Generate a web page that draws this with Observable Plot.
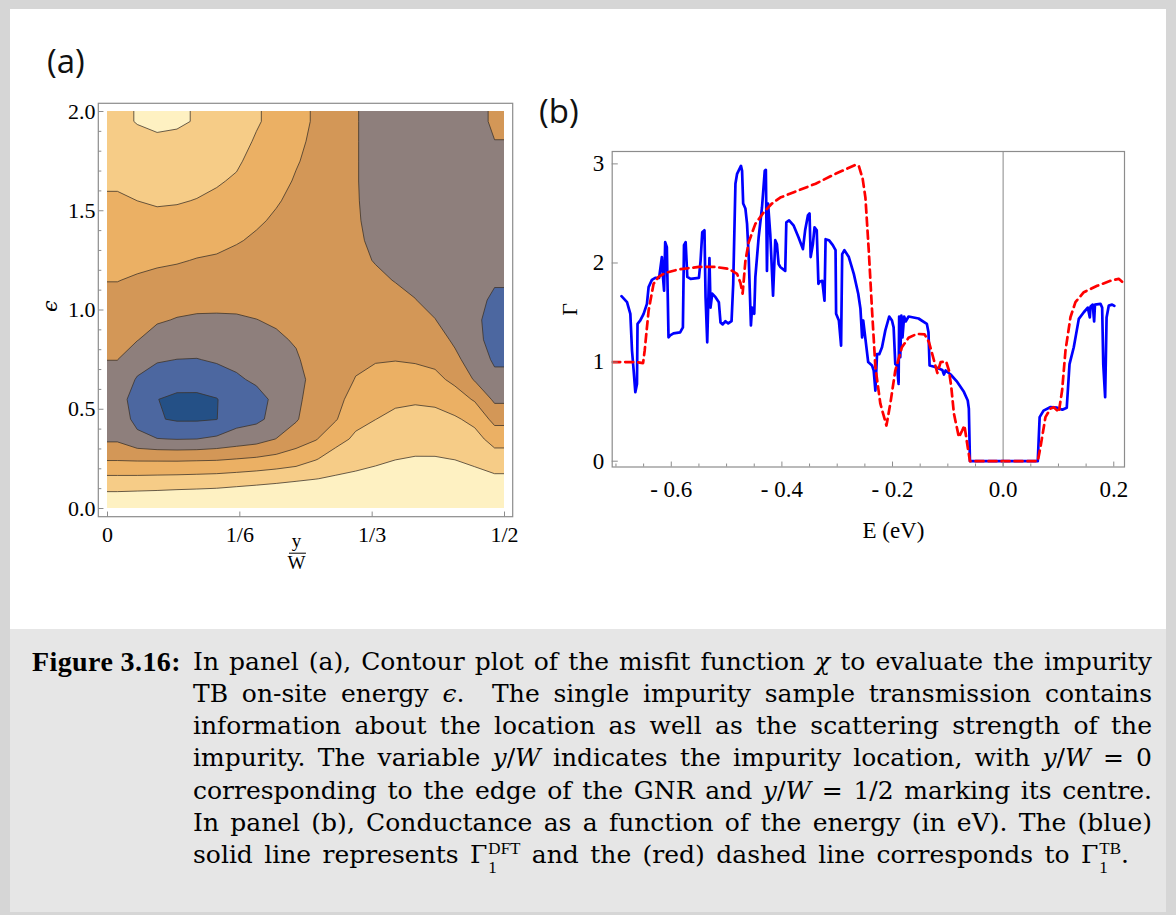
<!DOCTYPE html>
<html><head><meta charset="utf-8">
<script src="https://cdn.jsdelivr.net/npm/d3@7"></script>
<script src="https://cdn.jsdelivr.net/npm/@observablehq/plot@0.6"></script>
<style>
html,body{margin:0;padding:0;background:#fff}
#page{position:relative;width:1176px;height:915px;background:#d6d6d6;overflow:hidden}
.plotbox{position:absolute;top:0}
.plabel{position:absolute;font-family:"Open Sans";font-size:33px;line-height:33px;color:#111}
#cap{font-family:"DejaVu Serif",serif;font-size:25px;color:#000}
.ln{position:absolute;left:193px;white-space:nowrap;line-height:32px;height:32px}
.fig{position:absolute;left:32px;font-family:"Liberation Serif",serif;font-size:28px;letter-spacing:0.4px;font-weight:bold;white-space:nowrap;line-height:32px}
.ss{display:inline-flex;flex-direction:column;font-family:"Liberation Serif",serif;font-size:17px;line-height:19.4px;vertical-align:9.3px;margin-left:1px}
</style></head>
<body>
<div id="page">
  <div style="position:absolute;left:10px;top:9px;width:1156px;height:620px;background:#fff"></div>
  <div style="position:absolute;left:10px;top:629px;width:1156px;height:283px;background:#e6e6e6"></div>
  <div id="pa" class="plotbox" style="left:0;width:540px"></div>
  <div id="pb" class="plotbox" style="left:530px;width:646px"></div>
  <div class="plabel" style="left:47px;top:44px">(a)</div>
  <div class="plabel" style="left:539px;top:94px">(b)</div>
  <div id="cap">
    <div class="fig" style="top:646px">Figure 3.16:</div>
    <div class="ln" data-w="959" style="top:646px">In panel (a), Contour plot of the misfit function <i>χ</i> to evaluate the impurity</div>
    <div class="ln" data-w="959" style="top:678px">TB on-site energy <i>ϵ</i>.&nbsp; The single impurity sample transmission contains</div>
    <div class="ln" data-w="959" style="top:710px">information about the location as well as the scattering strength of the</div>
    <div class="ln" data-w="959" style="top:742px">impurity. The variable <i>y</i>/<i>W</i> indicates the impurity location, with <i>y</i>/<i>W</i> = 0</div>
    <div class="ln" data-w="959" style="top:775px">corresponding to the edge of the GNR and <i>y</i>/<i>W</i> = 1/2 marking its centre.</div>
    <div class="ln" data-w="959" style="top:807px">In panel (b), Conductance as a function of the energy (in eV). The (blue)</div>
    <div class="ln" data-w="936" style="top:839px">solid line represents Γ<span class="ss"><span>DFT</span><span>1</span></span> and the (red) dashed line corresponds to Γ<span class="ss"><span>TB</span><span>1</span></span>.</div>
  </div>
</div>
<script>
// ---------- Panel (a): misfit function chi, sampled on a 20 x 20 cell grid ----------
// columns: y/W cell centres 0.0125 ... 0.4875 ; each column lists eps cell centres 0.05 ... 1.95
const yW = [0.0125,0.0375,0.0625,0.0875,0.1125,0.1375,0.1625,0.1875,0.2125,0.2375,0.2625,0.2875,0.3125,0.3375,0.3625,0.3875,0.4125,0.4375,0.4625,0.4875];
const eps = [0.05,0.15,0.25,0.35,0.45,0.55,0.65,0.75,0.85,0.95,1.05,1.15,1.25,1.35,1.45,1.55,1.65,1.75,1.85,1.95];
const chiColumns = [
  [6.42,5.22,3.89,2.85,2.53,2.39,2.70,3.01,3.27,3.52,3.77,4.02,4.24,4.46,4.67,4.89,5.12,5.35,5.58,5.81],
  [6.47,5.23,3.85,2.25,1.73,1.59,1.91,2.44,3.03,3.32,3.62,3.91,4.19,4.46,4.73,5.00,5.26,5.52,5.78,6.04],
  [6.51,5.26,3.84,2.03,1.08,1.02,1.60,2.08,2.62,3.10,3.45,3.79,4.13,4.46,4.79,5.09,5.36,5.62,5.88,6.15],
  [6.58,5.29,3.83,1.97,0.89,0.78,1.44,1.99,2.47,2.95,3.33,3.70,4.07,4.41,4.75,5.06,5.32,5.58,5.84,6.10],
  [6.62,5.33,3.86,2.00,0.89,0.78,1.43,1.97,2.43,2.88,3.26,3.61,3.96,4.30,4.63,4.97,5.22,5.46,5.71,5.95],
  [6.67,5.38,3.89,2.18,0.98,0.96,1.59,2.10,2.49,2.88,3.23,3.57,3.90,4.21,4.52,4.82,5.09,5.31,5.53,5.76],
  [6.79,5.47,4.00,2.42,1.65,1.53,1.88,2.22,2.57,2.91,3.21,3.49,3.77,4.06,4.33,4.61,4.89,5.13,5.36,5.58],
  [6.90,5.57,4.12,2.62,1.80,1.70,2.14,2.42,2.70,2.99,3.21,3.44,3.66,3.89,4.10,4.30,4.50,4.70,4.90,5.10],
  [7.03,5.68,4.29,3.02,2.30,2.20,2.45,2.70,2.90,3.08,3.25,3.41,3.57,3.74,3.90,4.06,4.22,4.38,4.54,4.70],
  [7.19,5.82,4.50,3.55,2.90,2.82,2.75,2.92,3.06,3.17,3.28,3.39,3.50,3.61,3.72,3.83,3.94,4.05,4.15,4.25],
  [7.00,5.98,4.94,3.94,3.67,3.39,3.27,3.30,3.35,3.40,3.45,3.50,3.55,3.60,3.65,3.70,3.75,3.80,3.85,3.90],
  [6.80,6.12,5.44,4.67,3.93,3.70,3.50,3.35,3.30,3.27,3.25,3.25,3.25,3.25,3.25,3.30,3.35,3.40,3.45,3.50],
  [6.72,6.20,5.68,5.16,4.75,4.39,4.04,3.80,3.60,3.45,3.35,3.25,3.18,3.12,3.08,3.06,3.05,3.05,3.05,3.05],
  [6.70,6.27,5.85,5.42,4.99,4.62,4.26,3.94,3.74,3.54,3.35,3.15,2.96,2.85,2.78,2.74,2.72,2.72,2.72,2.72],
  [6.74,6.36,5.98,5.60,5.22,4.82,4.38,3.97,3.72,3.47,3.22,2.97,2.80,2.70,2.62,2.57,2.54,2.52,2.52,2.52],
  [6.80,6.42,6.05,5.67,5.29,4.89,4.36,3.91,3.61,3.32,3.02,2.80,2.65,2.55,2.48,2.44,2.42,2.40,2.40,2.40],
  [6.80,6.42,6.05,5.66,5.27,4.82,4.24,3.77,3.40,3.02,2.75,2.55,2.45,2.40,2.38,2.36,2.36,2.36,2.38,2.40],
  [6.84,6.41,5.98,5.55,5.12,4.45,3.78,3.21,2.85,2.60,2.45,2.38,2.35,2.35,2.37,2.40,2.45,2.50,2.55,2.62],
  [6.76,6.29,5.81,5.33,4.75,3.90,2.92,2.55,2.30,2.20,2.20,2.25,2.35,2.45,2.52,2.58,2.63,2.67,2.71,2.75],
  [6.93,6.19,5.44,4.64,3.70,2.82,2.24,1.86,1.62,1.63,1.88,2.07,2.20,2.33,2.46,2.59,2.72,2.86,2.99,3.12]
];
const chiLevels = [0,1,2,3,4,5,6];
const chiColors = ["#245086","#4c67a0","#8e7f7c","#d39757","#ebb064","#f6cc87","#fef1c2"];
const xTicksA = [0, 1/6, 1/3, 1/2];
const xTickLabelsA = ["0", "1/6", "1/3", "1/2"];
const yTicksA = [0, 0.5, 1, 1.5, 2];
const yMinorA = [0.1,0.2,0.3,0.4,0.6,0.7,0.8,0.9,1.1,1.2,1.3,1.4,1.6,1.7,1.8,1.9];

// ---------- Panel (b): conductance vs energy ----------
const gammaDFT = [
 [-0.690,1.665],[-0.680,1.605],[-0.674,1.487],[-0.671,1.117],[-0.668,0.915],[-0.665,0.696],[-0.662,0.78],[-0.661,1.386],
 [-0.656,1.42],[-0.650,1.487],[-0.644,1.588],[-0.641,1.756],[-0.635,1.83],[-0.629,1.85],[-0.622,1.85],[-0.617,2.06],
 [-0.615,1.86],[-0.613,1.72],[-0.611,2.21],[-0.608,2.16],[-0.605,1.25],[-0.602,1.27],[-0.596,1.29],[-0.584,1.30],
 [-0.579,1.35],[-0.577,2.18],[-0.574,2.21],[-0.571,1.86],[-0.565,1.84],[-0.550,1.85],[-0.547,2.025],[-0.544,2.31],
 [-0.540,2.33],[-0.538,1.655],[-0.535,1.20],[-0.531,2.05],[-0.529,1.55],[-0.526,1.69],[-0.520,1.655],[-0.514,1.605],
 [-0.511,1.40],[-0.507,1.38],[-0.502,1.413],[-0.497,1.39],[-0.491,1.413],[-0.488,1.79],[-0.484,2.80],[-0.481,2.90],
 [-0.474,2.98],[-0.472,2.93],[-0.470,2.60],[-0.466,2.55],[-0.463,2.395],[-0.460,2.06],[-0.456,1.37],[-0.454,1.55],
 [-0.450,1.487],[-0.448,1.857],[-0.442,2.26],[-0.436,2.56],[-0.431,2.93],[-0.429,2.94],[-0.427,1.92],[-0.425,2.60],
 [-0.421,2.29],[-0.416,1.67],[-0.412,2.23],[-0.409,2.19],[-0.406,1.99],[-0.403,1.96],[-0.394,1.92],[-0.392,2.41],
 [-0.387,2.43],[-0.379,2.38],[-0.370,2.26],[-0.362,2.14],[-0.358,2.33],[-0.353,2.48],[-0.350,2.50],[-0.348,2.06],
 [-0.344,2.19],[-0.341,2.36],[-0.337,2.33],[-0.334,1.79],[-0.332,1.81],[-0.327,1.82],[-0.323,1.62],[-0.321,2.24],
 [-0.315,2.23],[-0.308,2.18],[-0.303,2.13],[-0.302,1.487],[-0.297,1.42],[-0.293,1.167],[-0.291,2.09],[-0.287,2.13],
 [-0.279,2.06],[-0.270,1.89],[-0.262,1.69],[-0.258,1.54],[-0.255,1.25],[-0.253,1.42],[-0.249,1.235],[-0.244,1.00],
 [-0.237,0.965],[-0.234,0.915],[-0.231,0.713],[-0.228,1.08],[-0.224,1.08],[-0.219,1.15],[-0.213,1.32],[-0.206,1.46],
 [-0.201,1.42],[-0.198,1.35],[-0.195,0.98],[-0.192,0.965],[-0.189,0.78],[-0.188,1.46],[-0.186,1.05],[-0.184,1.47],
 [-0.182,1.25],[-0.179,1.46],[-0.176,1.41],[-0.171,1.46],[-0.153,1.44],[-0.138,1.386],[-0.135,1.30],[-0.133,0.965],
 [-0.123,0.95],[-0.110,0.92],[-0.107,0.875],[-0.104,0.915],[-0.095,0.875],[-0.083,0.80],[-0.071,0.70],[-0.064,0.612],
 [-0.062,0.53],[-0.060,0],[0.0626,0],[0.066,0.445],[0.073,0.51],[0.085,0.545],[0.0976,0.54],[0.107,0.52],
 [0.115,0.54],[0.120,0.98],[0.1277,1.15],[0.1368,1.436],[0.1458,1.503],[0.153,1.55],[0.1567,1.45],[0.158,1.56],
 [0.162,1.58],[0.1645,1.41],[0.166,1.58],[0.176,1.588],[0.179,1.55],[0.181,0.98],[0.1844,0.646],[0.187,1.45],
 [0.191,1.57],[0.197,1.58],[0.201,1.567]
];
const gammaTB = [
 [-0.7068,1.0],[-0.662,1.0],[-0.651,0.99],[-0.648,1.12],[-0.641,1.52],[-0.632,1.79],[-0.623,1.86],[-0.611,1.90],
 [-0.587,1.935],[-0.550,1.96],[-0.520,1.96],[-0.496,1.94],[-0.481,1.89],[-0.475,1.80],[-0.471,1.69],[-0.466,2.02],
 [-0.460,2.21],[-0.448,2.395],[-0.433,2.51],[-0.418,2.60],[-0.403,2.66],[-0.376,2.72],[-0.339,2.80],[-0.303,2.90],
 [-0.267,2.99],[-0.261,2.98],[-0.254,2.85],[-0.249,2.66],[-0.243,2.13],[-0.237,1.52],[-0.231,0.95],[-0.222,0.58],
 [-0.211,0.36],[-0.204,0.58],[-0.195,0.915],[-0.183,1.15],[-0.171,1.245],[-0.156,1.285],[-0.142,1.28],[-0.134,1.20],
 [-0.125,1.016],[-0.119,0.89],[-0.113,1.00],[-0.103,1.005],[-0.098,0.915],[-0.094,0.76],[-0.089,0.48],[-0.080,0.242],
 [-0.074,0.31],[-0.070,0.36],[-0.065,0.175],[-0.060,0],[0.0626,0],[0.0674,0.14],[0.0765,0.445],[0.0855,0.53],
 [0.0916,0.545],[0.1006,0.495],[0.1066,0.713],[0.1127,1.117],[0.1217,1.453],[0.1307,1.605],[0.1458,1.705],[0.170,1.77],
 [0.194,1.82],[0.209,1.84],[0.2194,1.79]
];
const xTicksB = [-0.6,-0.4,-0.2,0,0.2];
const xMinorB = [-0.7,-0.65,-0.55,-0.5,-0.45,-0.35,-0.3,-0.25,-0.15,-0.1,-0.05,0.05,0.1,0.15];
const yTicksB = [0,1,2,3];

// ---------- layout constants ----------
const frameA = {x1: -0.01096, x2: 0.51096, y1: -0.0438, y2: 2.0388};
const domB = {x: [-0.7068, 0.2194], y: [-0.0585, 3.125]};
const frameGrey = "#8c8c8c";

// Gridded value table (row-major, first row at the lowest eps). The sampled grid is
// surrounded by one ring of repeated edge cells so that the contour polygons reach
// past the plotted area, which is then clipped to 0 ≤ y/W ≤ 1/2, 0 ≤ eps ≤ 2.
const nx = yW.length, ny = eps.length;
const chiGrid = [];
for (let j = -1; j <= ny; ++j) for (let i = -1; i <= nx; ++i) {
  const ci = Math.min(nx - 1, Math.max(0, i)), cj = Math.min(ny - 1, Math.max(0, j));
  chiGrid.push(chiColumns[ci][cj]);
}
const gridOpts = {width: nx + 2, height: ny + 2, x1: -0.025, x2: 0.525, y1: -0.1, y2: 2.1};

const serif = "Liberation Serif";
const plotA = Plot.plot({
  width: 540, height: 600,
  marginLeft: 107, marginRight: 36, marginTop: 111, marginBottom: 92,
  x: {domain: [0, 0.5], axis: null},
  y: {domain: [0, 2], axis: null},
  color: {type: "ordinal", domain: chiLevels, range: chiColors},
  style: {background: "transparent", fontFamily: serif, fontSize: "22px", overflow: "visible"},
  marks: [
    Plot.contour(chiGrid, {...gridOpts, fill: Plot.identity, thresholds: chiLevels, clip: true}),
    Plot.contour(chiGrid, {...gridOpts, value: Plot.identity, thresholds: chiLevels.slice(1), fill: "none",
      stroke: "#3a3127", strokeWidth: 0.9, strokeOpacity: 0.85, clip: true}),
    Plot.rect([0], {x1: frameA.x1, x2: frameA.x2, y1: frameA.y1, y2: frameA.y2, fill: "none", stroke: frameGrey, strokeWidth: 1.2}),
    Plot.ruleY(yTicksA, {x1: frameA.x1, x2: frameA.x1 + 0.0065, stroke: frameGrey}),
    Plot.ruleY(yMinorA, {x1: frameA.x1, x2: frameA.x1 + 0.0038, stroke: frameGrey}),
    Plot.ruleX(xTicksA, {y1: frameA.y1, y2: frameA.y1 + 0.026, stroke: frameGrey}),
    Plot.axisY(yTicksA, {tickSize: 0, tickPadding: 12, tickFormat: d => d.toFixed(1)}),
    Plot.axisX(xTicksA, {tickSize: 0, tickPadding: 18, tickFormat: d => xTickLabelsA[xTicksA.indexOf(d)]}),
    Plot.text(["ϵ"], {x: -0.0718, y: 1.02, text: d => d, rotate: -90, fontSize: 21, fontStyle: "italic", fontFamily: "DejaVu Serif"}),
    Plot.text(["y"], {x: 0.238, y: -0.165, text: d => d, fontSize: 19}),
    Plot.ruleY([-0.2252], {x1: 0.2292, x2: 0.2506, stroke: "black", strokeWidth: 1}),
    Plot.text(["W"], {x: 0.238, y: -0.2756, text: d => d, fontSize: 19})
  ]
});
document.getElementById("pa").appendChild(plotA);

const plotB = Plot.plot({
  width: 646, height: 600,
  marginLeft: 81.7, marginRight: 52, marginTop: 151, marginBottom: 133.5,
  x: {domain: domB.x, axis: null},
  y: {domain: domB.y, axis: null},
  style: {background: "transparent", fontFamily: serif, fontSize: "23px", overflow: "visible"},
  marks: [
    Plot.ruleX([0], {stroke: "#a3a3a3", strokeWidth: 1.3}),
    Plot.line(gammaDFT, {x: d => d[0], y: d => d[1], stroke: "#0000ff", strokeWidth: 2.7, clip: true}),
    Plot.line(gammaTB, {x: d => d[0], y: d => d[1], stroke: "#ff0000", strokeWidth: 2.7, strokeDasharray: "8,5", clip: true}),
    Plot.frame({stroke: frameGrey, strokeWidth: 1.2}),
    Plot.ruleX(xTicksB, {y1: domB.y[0], y2: domB.y[0] + 0.05, stroke: frameGrey}),
    Plot.ruleX(xMinorB, {y1: domB.y[0], y2: domB.y[0] + 0.03, stroke: frameGrey}),
    Plot.ruleY(yTicksB, {x1: domB.x[0], x2: domB.x[0] + 0.011, stroke: frameGrey}),
    Plot.axisY(yTicksB, {tickSize: 0, tickPadding: 8, tickFormat: d => String(d)}),
    Plot.axisX(xTicksB, {tickSize: 0, tickPadding: 14, tickFormat: d => d < 0 ? "- " + (-d).toFixed(1) : d.toFixed(1)}),
    Plot.text(["Γ"], {x: -0.7825, y: 1.531, text: d => d, rotate: -90, fontSize: 22}),
    Plot.text(["E (eV)"], {x: -0.1984, y: -0.699, text: d => d, fontSize: 23})
  ]
});
document.getElementById("pb").appendChild(plotB);

// justify caption lines to the widths measured on the reference
document.querySelectorAll(".ln[data-w]").forEach(el => {
  const target = +el.dataset.w;
  const w = el.getBoundingClientRect().width;
  const n = (el.textContent.match(/[ \u00a0]/g) || []).length;
  if (n > 0) el.style.wordSpacing = ((target - w) / n) + "px";
});
</script>
</body></html>
